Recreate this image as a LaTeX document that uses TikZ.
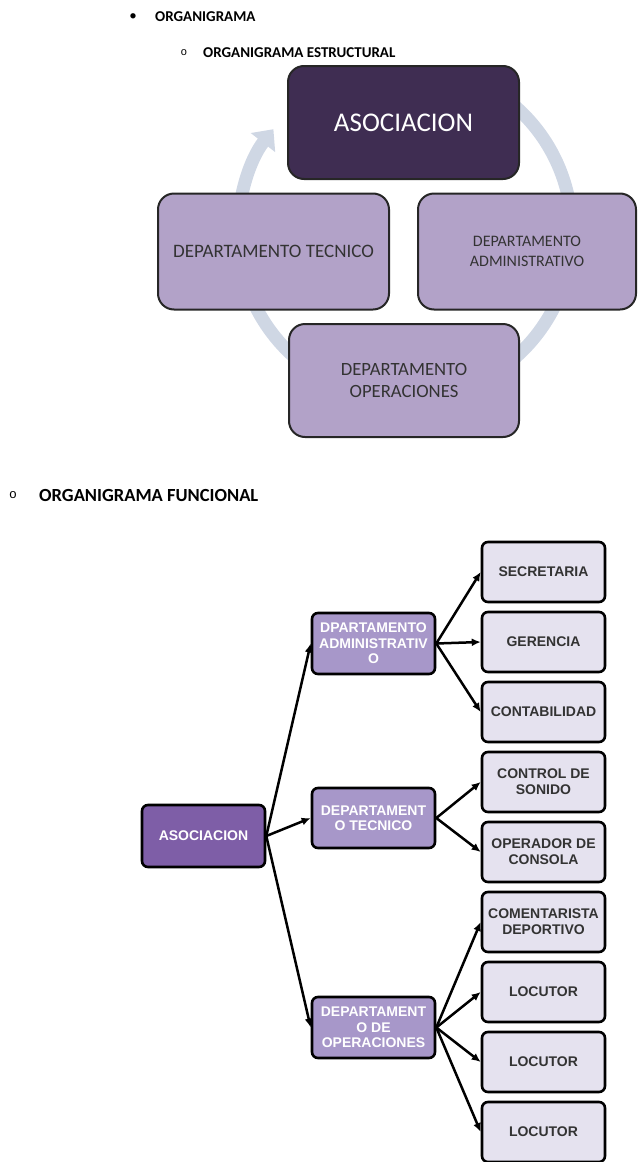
\documentclass[tikz,border=0pt]{standalone}
\usepackage{fontspec}
\setmainfont{Carlito}
\newfontfamily\cajafont{Liberation Sans}
\newfontfamily\vinetafont{Liberation Mono}
\usetikzlibrary{arrows.meta,calc}

\definecolor{ciruela}{HTML}{3F2D52}
\definecolor{lila}{HTML}{B2A2C8}
\definecolor{anillo}{HTML}{CFD7E4}
\definecolor{morado}{HTML}{7E5EA7}
\definecolor{malva}{HTML}{A797C9}
\definecolor{lavanda}{HTML}{E5E2EF}

\tikzset{
  titulo/.style={anchor=west,inner sep=0pt,font=\bfseries\fontsize{15}{17}\selectfont},
  ciclo/.style={draw=black!85,line width=2pt,rounded corners=16pt,fill=lila,text=black!80,
    minimum height=116pt,align=center,font=\fontsize{19}{22}\selectfont},
  anillofondo/.style={draw=anillo,line width=13pt},
  raiz/.style={draw=black,line width=2.6pt,rounded corners=6pt,fill=morado,text=white,
    minimum width=123pt,minimum height=62pt,inner sep=2pt,align=center,
    font=\cajafont\bfseries\fontsize{14}{15.5}\selectfont},
  depto/.style={raiz,fill=malva,minimum height=61pt},
  hoja/.style={raiz,fill=lavanda,text=black!80,minimum height=60pt,
    font=\cajafont\bfseries\fontsize{14}{16}\selectfont},
  flecha/.style={line width=2.5pt,-{Latex[length=9pt,width=8pt]}}
}

\begin{document}
\begin{tikzpicture}[x=1pt,y=-1pt]
  \useasboundingbox (0,0) rectangle (639,1162);

  \node (puntoA) at (133,17) {\fontsize{15}{17}\selectfont\textbullet};
  \node[titulo] (tituloA) at (155,17) {ORGANIGRAMA};
  \node (puntoB) at (184,53) {\vinetafont\fontsize{11}{12}\selectfont o};
  \node[titulo] (tituloB) at (203,53) {ORGANIGRAMA ESTRUCTURAL};

  \coordinate (centroAnillo) at (405,232);
  \draw[anillofondo,-{Triangle[length=17pt,width=30pt]}] (centroAnillo) ++(-60:167)
    arc[start angle=-60,end angle=218,radius=167];

  \node[ciclo,fill=ciruela,text=white,minimum width=231pt,minimum height=113pt,
    font=\fontsize{27}{30}\selectfont] (asocCiclo) at (403.5,122.5) {ASOCIACION};
  \node[ciclo,minimum width=231pt] (tecCiclo) at (273.5,251.5) {DEPARTAMENTO TECNICO};
  \node[ciclo,minimum width=218pt,font=\fontsize{16}{20}\selectfont] (admCiclo) at (527,251.5)
    {DEPARTAMENTO\\ADMINISTRATIVO};
  \node[ciclo,minimum width=230pt,minimum height=113pt,font=\fontsize{18.7}{22}\selectfont]
    (opeCiclo) at (404,380.5) {DEPARTAMENTO\\OPERACIONES};

  \node (puntoC) at (13,495) {\vinetafont\fontsize{13}{14}\selectfont o};
  \node[titulo,font=\bfseries\fontsize{18.5}{21}\selectfont] (tituloC) at (39,495)
    {ORGANIGRAMA FUNCIONAL};

  \node[raiz] (asocFun) at (203.5,836) {ASOCIACION};

  \node[depto] (deptoAdm) at (373.5,643.5) {DPARTAMENTO\\ADMINISTRATIV\\O};
  \node[depto,minimum height=60pt] (deptoTec) at (373.5,818) {DEPARTAMENT\\O TECNICO};
  \node[depto] (deptoOpe) at (373.5,1027.5) {DEPARTAMENT\\O DE\\OPERACIONES};

  \node[hoja] (secretaria) at (543.5,572) {SECRETARIA};
  \node[hoja] (gerencia) at (543.5,642) {GERENCIA};
  \node[hoja] (contabilidad) at (543.5,712) {CONTABILIDAD};
  \node[hoja] (controlSonido) at (543.5,782) {CONTROL DE\\SONIDO};
  \node[hoja] (operadorConsola) at (543.5,852) {OPERADOR DE\\CONSOLA};
  \node[hoja] (comentarista) at (543.5,922) {COMENTARISTA\\DEPORTIVO};
  \node[hoja] (locutorA) at (543.5,992) {LOCUTOR};
  \node[hoja] (locutorB) at (543.5,1062) {LOCUTOR};
  \node[hoja] (locutorC) at (543.5,1132) {LOCUTOR};

  \draw[flecha] (asocFun.east) -- (deptoAdm.west);
  \draw[flecha] (asocFun.east) -- (deptoTec.west);
  \draw[flecha] (asocFun.east) -- (deptoOpe.west);

  \draw[flecha] (deptoAdm.east) -- (secretaria.west);
  \draw[flecha] (deptoAdm.east) -- (gerencia.west);
  \draw[flecha] (deptoAdm.east) -- (contabilidad.west);

  \draw[flecha] (deptoTec.east) -- (controlSonido.west);
  \draw[flecha] (deptoTec.east) -- (operadorConsola.west);

  \draw[flecha] (deptoOpe.east) -- (comentarista.west);
  \draw[flecha] (deptoOpe.east) -- (locutorA.west);
  \draw[flecha] (deptoOpe.east) -- (locutorB.west);
  \draw[flecha] (deptoOpe.east) -- (locutorC.west);
\end{tikzpicture}
\end{document}
